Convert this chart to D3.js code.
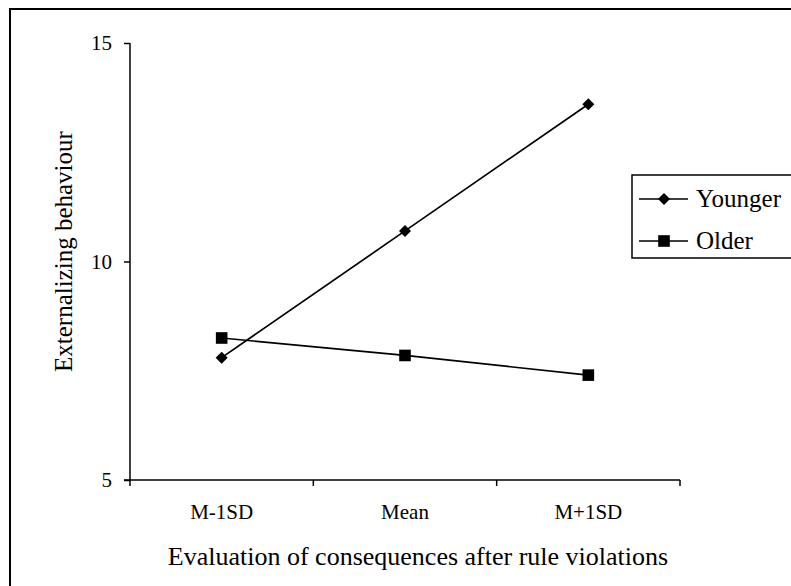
<!DOCTYPE html>
<html>
<head>
<meta charset="utf-8">
<script src="https://cdn.jsdelivr.net/npm/d3@7"></script>
<style>
  body { margin: 0; background: #fff; }
  text { font-family: "Liberation Serif", "Times New Roman", serif; fill: #000; }
</style>
</head>
<body>
<svg id="chart" width="791" height="586"></svg>
<script>
// data
var categories = ['M-1SD', 'Mean', 'M+1SD'];
var younger = [7.8, 10.7, 13.6];
var older = [8.25, 7.85, 7.4];
var yTicks = [5, 10, 15];
var seriesNames = ['Younger', 'Older'];

var svg = d3.select('#chart');

// outer frame (runs off the right and bottom edge)
svg.append('rect')
  .attr('x', 10).attr('y', 9)
  .attr('width', 800).attr('height', 600)
  .attr('fill', 'none').attr('stroke', '#000').attr('stroke-width', 2);

var plotLeft = 130, plotRight = 680, plotTop = 43, plotBottom = 480;

var x = d3.scaleBand().domain(categories).range([plotLeft, plotRight]);
var y = d3.scaleLinear().domain([5, 15]).range([plotBottom, plotTop]);

// y axis
var yAxis = svg.append('g')
  .attr('transform', 'translate(' + plotLeft + ',0)')
  .call(d3.axisLeft(y).tickValues(yTicks).tickSize(6).tickPadding(12));
yAxis.select('.domain').attr('d', 'M0,' + plotTop + 'V' + plotBottom);
yAxis.selectAll('line, path').attr('stroke', '#000').attr('stroke-width', 1.5);
yAxis.selectAll('text').style('font-size', '21px').attr('font-family', null);

// x axis with ticks at category boundaries
var xAxis = svg.append('g').attr('transform', 'translate(0,' + plotBottom + ')');
xAxis.append('line')
  .attr('x1', plotLeft - 6).attr('x2', plotRight)
  .attr('stroke', '#000').attr('stroke-width', 1.5);
var bounds = categories.map(function(c) { return x(c); }).concat([plotRight]);
xAxis.selectAll('line.tk').data(bounds).enter().append('line')
  .attr('class', 'tk')
  .attr('x1', function(d) { return d; }).attr('x2', function(d) { return d; })
  .attr('y1', 0).attr('y2', 6)
  .attr('stroke', '#000').attr('stroke-width', 1.5);
xAxis.selectAll('text').data(categories).enter().append('text')
  .attr('x', function(d) { return x(d) + x.bandwidth() / 2; })
  .attr('y', 39)
  .attr('text-anchor', 'middle')
  .style('font-size', '21px')
  .text(function(d) { return d; });

// axis titles
svg.append('text')
  .attr('x', 418).attr('y', 565)
  .attr('text-anchor', 'middle')
  .style('font-size', '26px')
  .text('Evaluation of consequences after rule violations');
svg.append('text')
  .attr('transform', 'translate(72,372) rotate(-90)')
  .attr('text-anchor', 'start')
  .style('font-size', '25px')
  .text('Externalizing behaviour');

var cx = function(d, i) { return x(categories[i]) + x.bandwidth() / 2; };
var line = d3.line().x(cx).y(function(d) { return y(d); });

var diamond = d3.symbol().type(d3.symbolDiamond2 || d3.symbolDiamond).size(92);
var square = d3.symbol().type(d3.symbolSquare).size(135);

function drawSeries(vals, sym) {
  svg.append('path').datum(vals)
    .attr('d', line)
    .attr('fill', 'none').attr('stroke', '#000').attr('stroke-width', 1.7);
  svg.selectAll(null).data(vals).enter().append('path')
    .attr('transform', function(d, i) { return 'translate(' + cx(d, i) + ',' + y(d) + ')'; })
    .attr('d', sym)
    .attr('fill', '#000');
}
drawSeries(younger, diamond);
drawSeries(older, square);

// legend
var lg = svg.append('g');
lg.append('rect')
  .attr('x', 632).attr('y', 175)
  .attr('width', 200).attr('height', 83)
  .attr('fill', '#fff').attr('stroke', '#000').attr('stroke-width', 1.5);
var syms = [diamond, square];
seriesNames.forEach(function(name, i) {
  var ly = 199 + i * 42;
  lg.append('line')
    .attr('x1', 639).attr('x2', 688).attr('y1', ly).attr('y2', ly)
    .attr('stroke', '#000').attr('stroke-width', 1.7);
  lg.append('path')
    .attr('transform', 'translate(664,' + ly + ')')
    .attr('d', syms[i]).attr('fill', '#000');
  lg.append('text')
    .attr('x', 696).attr('y', ly + 8)
    .style('font-size', '25px')
    .text(name);
});
</script>
</body>
</html>
